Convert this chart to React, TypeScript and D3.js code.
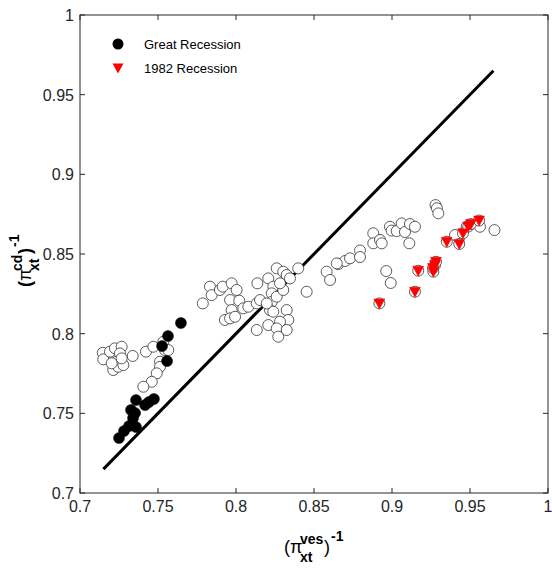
import React from "react";
import * as d3 from "d3";

// ---- data ----
const tickValues = [0.7, 0.75, 0.8, 0.85, 0.9, 0.95, 1];
const tickLabels = ["0.7", "0.75", "0.8", "0.85", "0.9", "0.95", "1"];

// open circles: all observations
const allX = [
  0.7146, 0.7149, 0.7192, 0.7224, 0.7267, 0.7256, 0.7235, 0.7213, 0.7245, 0.7278, 0.7267, 0.7338, 0.7203,
  0.7423, 0.7470, 0.7534, 0.7545, 0.7566, 0.7513, 0.7513, 0.7492, 0.7460, 0.7406,
  0.7787, 0.7833, 0.7844, 0.7897, 0.7915, 0.7972, 0.7962, 0.8004, 0.8021, 0.7972, 0.7929, 0.7962, 0.7994,
  0.8047, 0.8079, 0.8133, 0.8137, 0.8207, 0.8261, 0.8303, 0.8325, 0.8346, 0.8399, 0.8239, 0.8229, 0.8229,
  0.8261, 0.8303, 0.8282, 0.8218, 0.8239, 0.8325, 0.8335, 0.8282, 0.8207, 0.8261, 0.8325, 0.8271, 0.8133,
  0.8453, 0.8154, 0.8197,
  0.8581, 0.8603, 0.8656, 0.8699, 0.8731, 0.8795, 0.8795, 0.8880, 0.8880, 0.8923, 0.8934, 0.8987, 0.8998,
  0.9030, 0.9062, 0.9083, 0.9115, 0.9147, 0.9111, 0.9279, 0.9288, 0.9297, 0.8963, 0.8992, 0.9404, 0.9479,
  0.9564, 0.9657, 0.8646,
];
const allY = [
  0.7880, 0.7839, 0.7887, 0.7908, 0.7918, 0.7876, 0.7824, 0.7772, 0.7792, 0.7803, 0.7845, 0.7860, 0.7814,
  0.7887, 0.7918, 0.7949, 0.7897, 0.7897, 0.7824, 0.7792, 0.7751, 0.7698, 0.7667,
  0.8190, 0.8295, 0.8242, 0.8274, 0.8295, 0.8316, 0.8211, 0.8274, 0.8207, 0.8148, 0.8086, 0.8096, 0.8106,
  0.8159, 0.8169, 0.8190, 0.8316, 0.8347, 0.8410, 0.8389, 0.8368, 0.8347, 0.8410, 0.8295, 0.8253, 0.8200,
  0.8232, 0.8274, 0.8316, 0.8148, 0.8138, 0.8148, 0.8086, 0.8075, 0.8054, 0.8033, 0.8023, 0.7981, 0.8023,
  0.8263, 0.8211, 0.8190,
  0.8389, 0.8337, 0.8437, 0.8456, 0.8473, 0.8522, 0.8481, 0.8630, 0.8567, 0.8588, 0.8567, 0.8671, 0.8647,
  0.8644, 0.8692, 0.8638, 0.8688, 0.8671, 0.8567, 0.8807, 0.8787, 0.8755, 0.8393, 0.8318, 0.8619, 0.8672,
  0.8671, 0.8650, 0.8441,
];

// Great Recession (filled black)
const greatX = [0.7250, 0.7282, 0.7314, 0.7359, 0.7327, 0.7353, 0.7340, 0.7359, 0.7417, 0.7442, 0.7474, 0.7558, 0.7526, 0.7564, 0.7647];
const greatY = [0.7345, 0.7389, 0.7420, 0.7414, 0.7521, 0.7502, 0.7470, 0.7583, 0.7552, 0.7571, 0.7590, 0.7828, 0.7922, 0.7985, 0.8067];

// 1982 Recession (red triangles)
const r82X = [0.8919, 0.9147, 0.9168, 0.9265, 0.9276, 0.9282, 0.9263, 0.9351, 0.9431, 0.9455, 0.9489, 0.9506, 0.9558];
const r82Y = [0.8190, 0.8263, 0.8395, 0.8389, 0.8431, 0.8451, 0.8412, 0.8577, 0.8563, 0.8630, 0.8672, 0.8688, 0.8710];

// 45-degree reference line
const lineX = [0.715, 0.965];
const lineY = [0.715, 0.965];

const legendLabels = ["Great Recession", "1982 Recession"];

// ---- layout ----
const W = 552;
const H = 574;
const L = 80, R = 548, T = 15, B = 493;
const AX = "#262626";
const FONT = "'Liberation Sans', Arial, Helvetica, sans-serif";

export default function App() {
  const x = d3.scaleLinear().domain([0.7, 1]).range([L, R]);
  const y = d3.scaleLinear().domain([0.7, 1]).range([B, T]);
  const line = d3.line<number>().x((d, i) => x(lineX[i])).y((d, i) => y(lineY[i]));
  const tri = "M-5.5,-4.5L5.5,-4.5L0,5.5Z";
  const rC = 5.5;

  return (
    <svg width={W} height={H} style={{ position: "absolute", left: 0, top: 0, background: "#fff" }} fontFamily={FONT}>
      <rect x={0} y={0} width={W} height={H} fill="#fff" />
      {/* data line */}
      <path d={line(lineX) || ""} stroke="#000" strokeWidth={3} fill="none" />
      {/* open circles */}
      {allX.map((v, i) => (
        <circle key={"a" + i} cx={x(v)} cy={y(allY[i])} r={rC} fill="#fff" stroke="#333" strokeWidth={0.8} />
      ))}
      {r82X.map((v, i) => (
        <circle key={"rc" + i} cx={x(v)} cy={y(r82Y[i])} r={rC} fill="#fff" stroke="#333" strokeWidth={0.8} />
      ))}
      {greatX.map((v, i) => (
        <circle key={"g" + i} cx={x(v)} cy={y(greatY[i])} r={rC} fill="#000" stroke="#000" strokeWidth={0.5} />
      ))}
      {r82X.map((v, i) => (
        <path key={"r" + i} d={tri} transform={`translate(${x(v)},${y(r82Y[i])})`} fill="#ff0000" stroke="#ff0000" strokeWidth={0.5} />
      ))}
      {/* axes box */}
      <rect x={L} y={T} width={R - L} height={B - T} fill="none" stroke={AX} strokeWidth={1} />
      {tickValues.map((t, i) => (
        <g key={"t" + i}>
          <line x1={x(t)} x2={x(t)} y1={B} y2={B - 5} stroke={AX} />
          <line x1={x(t)} x2={x(t)} y1={T} y2={T + 5} stroke={AX} />
          <line x1={L} x2={L + 5} y1={y(t)} y2={y(t)} stroke={AX} />
          <line x1={R} x2={R - 5} y1={y(t)} y2={y(t)} stroke={AX} />
          <text x={x(t)} y={B + 19} fontSize={16} textAnchor="middle" fill={AX}>{tickLabels[i]}</text>
          <text x={L - 6} y={y(t) + 6} fontSize={16} textAnchor="end" fill={AX}>{tickLabels[i]}</text>
        </g>
      ))}
      {/* legend */}
      <circle cx={118} cy={44} r={5.5} fill="#000" />
      <text x={144} y={49} fontSize={13} fill="#000">{legendLabels[0]}</text>
      <path d={tri} transform="translate(118,68)" fill="#ff0000" />
      <text x={144} y={73} fontSize={13} fill="#000">{legendLabels[1]}</text>
      {/* x label */}
      <g transform="translate(284,553)" fill="#000">
        <text x={0} y={0} fontSize={18}>(</text>
        <text x={6} y={0} fontSize={18}>π</text>
        <text x={16} y={-9} fontSize={14} fontWeight="bold">ves</text>
        <text x={16} y={9} fontSize={14} fontWeight="bold">xt</text>
        <text x={40} y={0} fontSize={18}>)</text>
        <text x={47} y={-12} fontSize={14} fontWeight="bold">-1</text>
      </g>
      {/* y label */}
      <g transform="translate(31,287) rotate(-90)" fill="#000">
        <text x={0} y={0} fontSize={18} fontWeight="bold">(</text>
        <text x={6} y={0} fontSize={18}>π</text>
        <text x={16} y={-9} fontSize={14} fontWeight="bold">cd</text>
        <text x={16} y={8} fontSize={14} fontWeight="bold">xt</text>
        <text x={33} y={0} fontSize={18} fontWeight="bold">)</text>
        <text x={40} y={-12} fontSize={14} fontWeight="bold">-1</text>
      </g>
    </svg>
  );
}
